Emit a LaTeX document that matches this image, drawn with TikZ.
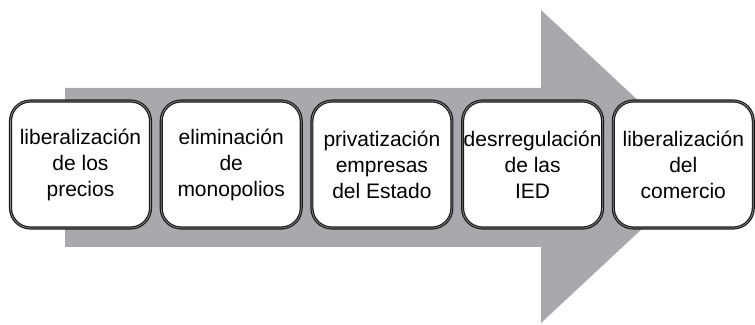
\documentclass[tikz,border=0pt]{standalone}
\usepackage{fontspec}
\setmainfont{Liberation Sans}
\usetikzlibrary{positioning}

\definecolor{flechagris}{RGB}{167,169,172}

\begin{document}
\begin{tikzpicture}[x=1pt,y=1pt,
      paso/.style={draw=black!90,rectangle,rounded corners=20pt,fill=white,
        line width=1.2pt,double=black!45,double distance=0.7pt,
        minimum width=140pt,minimum height=127pt,inner sep=0pt,
        align=center,font=\fontsize{21}{26}\selectfont}]
    \useasboundingbox (0,0) rectangle (755,324);
    % flecha de fondo
    \fill[flechagris] (65,77) -- (541,77) -- (541,1) -- (709,157.5)
      -- (541,314) -- (541,236) -- (65,236) -- cycle;

    \node[paso](n0) at (80.5,159.5){liberalización\\de los\\precios};
    \node[paso,right=9.5pt of n0](n1){eliminación\\de\\monopolios};
    \node[paso,right=9.5pt of n1](n2){privatización\\empresas\\del Estado};
    \node[paso,right=9.5pt of n2](n3){desrregulación\\de las\\IED};
    \node[paso,right=9.5pt of n3](n4){liberalización\\del\\comercio};

\end{tikzpicture}
\end{document}
